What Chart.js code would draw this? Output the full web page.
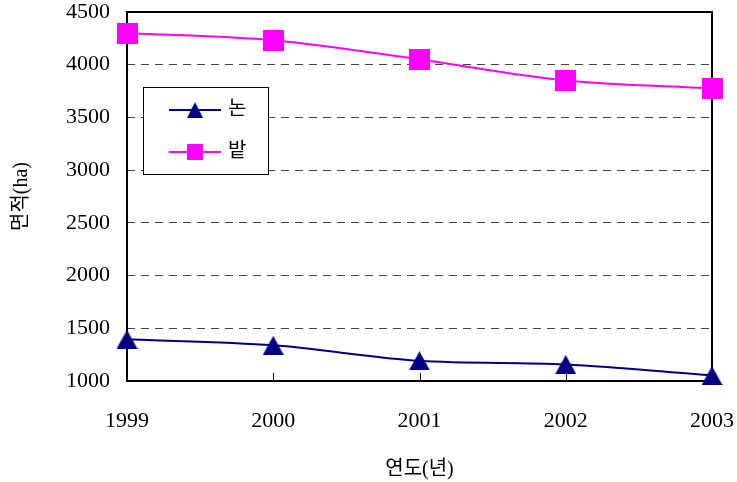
<!DOCTYPE html>
<html>
<head>
<meta charset="utf-8">
<script src="https://cdn.jsdelivr.net/npm/chart.js@4/dist/chart.umd.min.js"></script>
<style>
  html, body { margin: 0; padding: 0; background: #fff; }
  canvas { display: block; }
</style>
</head>
<body>
<canvas id="chart" width="737" height="482"></canvas>
<script>
// 연도별 논·밭 면적 (ha)
const years = ['1999', '2000', '2001', '2002', '2003'];
const paddyArea = [1395, 1338, 1191, 1156, 1052];   // 논
const fieldArea = [4300, 4232, 4050, 3850, 3776];   // 밭
const seriesNames = ['논', '밭'];
const yMin = 1000, yMax = 4500, yStep = 500;
const xTitle = '연도(년)';
const yTitle = '면적(ha)';

const NAVY = '#000080';
const MAGENTA = '#FF00FF';
const SERIF = '"Liberation Serif", "Noto Sans CJK KR", serif';

// Marker images, centred on their bounding box
function triangleMarker(color, w, h) {
  const c = document.createElement('canvas');
  c.width = w; c.height = h;
  const g = c.getContext('2d');
  g.fillStyle = color;
  g.beginPath();
  g.moveTo(w / 2, 0);
  g.lineTo(w, h);
  g.lineTo(0, h);
  g.closePath();
  g.fill();
  return c;
}
function squareMarker(color, s) {
  const c = document.createElement('canvas');
  c.width = s; c.height = s;
  const g = c.getContext('2d');
  g.fillStyle = color;
  g.fillRect(0, 0, s, s);
  return c;
}
const triImg = triangleMarker(NAVY, 21, 19);
const sqImg = squareMarker(MAGENTA, 21);

// Plot frame and inward x tick marks
const framePlugin = {
  id: 'frame',
  beforeDatasetsDraw(chart) {
    const { ctx, chartArea: a, scales } = chart;
    ctx.save();
    ctx.strokeStyle = '#000';
    ctx.lineWidth = 2;
    ctx.strokeRect(a.left, a.top, a.right - a.left, a.bottom - a.top);
    ctx.lineWidth = 1;
    ctx.beginPath();
    const xs = scales.x;
    for (let i = 1; i < xs.ticks.length - 1; i++) {
      const px = Math.round(xs.getPixelForTick(i)) + 0.5;
      ctx.moveTo(px, a.bottom);
      ctx.lineTo(px, a.bottom - 8);
    }
    ctx.stroke();
    ctx.restore();
  }
};

// Boxed legend inside the plot, with line + marker samples
const boxLegendPlugin = {
  id: 'boxLegend',
  afterDatasetsDraw(chart) {
    const { ctx } = chart;
    const box = { x: 143.5, y: 87.5, w: 125, h: 87 };
    ctx.save();
    ctx.fillStyle = '#fff';
    ctx.fillRect(box.x, box.y, box.w, box.h);
    ctx.strokeStyle = '#000';
    ctx.lineWidth = 1;
    ctx.strokeRect(box.x, box.y, box.w, box.h);
    const rows = [110, 152];
    chart.data.datasets.forEach((ds, i) => {
      const y = rows[i];
      ctx.strokeStyle = ds.borderColor;
      ctx.lineWidth = 2;
      ctx.beginPath();
      ctx.moveTo(169, y);
      ctx.lineTo(221, y);
      ctx.stroke();
      ctx.drawImage(ds.pointStyle, 195 - 8, y - 8, 16, 16);
      ctx.fillStyle = '#000';
      ctx.font = '20px ' + SERIF;
      ctx.textBaseline = 'middle';
      ctx.textAlign = 'left';
      ctx.fillText(ds.label, 228, y);
    });
    ctx.restore();
  }
};

new Chart(document.getElementById('chart'), {
  type: 'line',
  data: {
    labels: years,
    datasets: [
      {
        label: seriesNames[0],
        data: paddyArea,
        borderColor: NAVY,
        backgroundColor: NAVY,
        borderWidth: 2,
        pointStyle: triImg,
        pointRadius: 10,
        tension: 0.33,
        clip: false
      },
      {
        label: seriesNames[1],
        data: fieldArea,
        borderColor: MAGENTA,
        backgroundColor: MAGENTA,
        borderWidth: 2,
        pointStyle: sqImg,
        pointRadius: 10,
        tension: 0.33,
        clip: false
      }
    ]
  },
  options: {
    responsive: false,
    animation: false,
    events: [],
    layout: { padding: { top: 12, right: 25, left: 0, bottom: 0 } },
    plugins: {
      legend: { display: false },
      tooltip: { enabled: false }
    },
    scales: {
      x: {
        type: 'category',
        offset: false,
        grid: { display: false },
        border: { display: false },
        ticks: {
          color: '#000',
          font: { family: SERIF, size: 22 },
          padding: 19,
          maxRotation: 0,
          autoSkip: false
        },
        title: {
          display: true,
          text: xTitle,
          color: '#000',
          font: { family: SERIF, size: 20 },
          padding: { top: 0, bottom: 0 }
        },
        afterFit(scale) {
          scale.height = 101;
          scale.paddingLeft = 0;
          scale.paddingRight = 0;
        }
      },
      y: {
        min: yMin,
        max: yMax,
        grid: { color: '#444', lineWidth: 1, drawTicks: false },
        border: { display: false, dash: [8, 6] },
        ticks: {
          stepSize: yStep,
          color: '#000',
          font: { family: SERIF, size: 22 },
          padding: 17,
          callback: (v) => String(v)
        },
        title: {
          display: true,
          text: yTitle,
          color: '#000',
          font: { family: SERIF, size: 20 },
          padding: { top: 10, bottom: 0 }
        },
        afterFit(scale) {
          scale.width = 127;
          scale.paddingTop = 0;
          scale.paddingBottom = 0;
        }
      }
    }
  },
  plugins: [framePlugin, boxLegendPlugin]
});
</script>
</body>
</html>
